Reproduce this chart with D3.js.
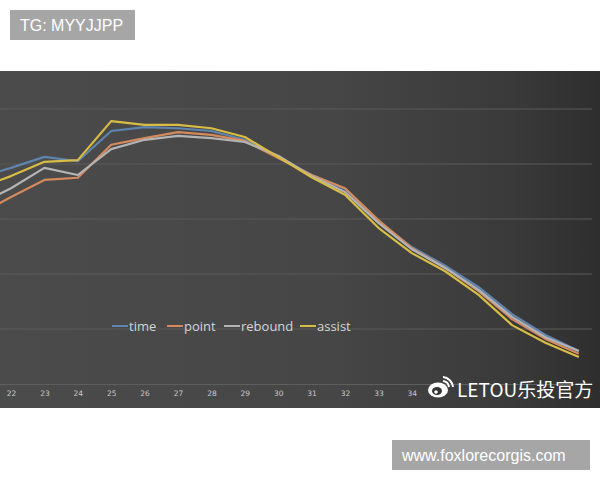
<!DOCTYPE html>
<html><head><meta charset="utf-8">
<script src="https://cdn.jsdelivr.net/npm/d3@7/dist/d3.min.js"></script>
<style>body{margin:0;background:#fff;}svg{display:block;}</style>
</head><body>
<svg id="c" width="600" height="480"></svg>
<script>
const ages = [21,22,23,24,25,26,27,28,29,30,31,32,33,34,35,36,37,38,39];
const tickLabels = ["22","23","24","25","26","27","28","29","30","31","32","33","34"];
const seriesNames = ["time","point","rebound","assist"];
const seriesColors = ["#5f84ad","#d48a5c","#b4b4b4","#d8bd45"];
const timeVals    = [3.75,3.93,4.13,4.05,4.60,4.67,4.65,4.60,4.44,4.13,3.80,3.55,2.95,2.49,2.15,1.76,1.27,0.89,0.60];
const pointVals   = [3.07,3.40,3.71,3.75,4.35,4.47,4.58,4.53,4.42,4.11,3.80,3.56,2.98,2.47,2.11,1.69,1.18,0.82,0.55];
const reboundVals = [3.25,3.56,3.93,3.80,4.27,4.44,4.51,4.47,4.40,4.15,3.78,3.49,2.93,2.45,2.11,1.71,1.22,0.85,0.60];
const assistVals  = [3.56,3.78,4.04,4.07,4.78,4.71,4.71,4.65,4.49,4.13,3.76,3.44,2.84,2.38,2.05,1.62,1.07,0.75,0.49];
const gridVals = [1,2,3,4,5];

const svg = d3.select("#c");
const defs = svg.append("defs");
const grad = defs.append("linearGradient").attr("id","bg").attr("x1","0").attr("x2","1").attr("y1","0").attr("y2","0");
grad.append("stop").attr("offset","0%").attr("stop-color","#4b4b4b");
grad.append("stop").attr("offset","55%").attr("stop-color","#464646");
grad.append("stop").attr("offset","85%").attr("stop-color","#3a3a3a");
grad.append("stop").attr("offset","100%").attr("stop-color","#2e2e2e");
defs.append("clipPath").attr("id","clip").append("rect").attr("x",0).attr("y",71).attr("width",600).attr("height",337);

svg.append("rect").attr("x",0).attr("y",71).attr("width",600).attr("height",337).attr("fill","url(#bg)");

const x = d3.scaleLinear().domain([22,39]).range([11,578.8]);
const y = d3.scaleLinear().domain([0,5]).range([384,109]);

// gridlines
svg.append("g").selectAll("line").data(gridVals).join("line")
  .attr("x1",0).attr("x2",592).attr("y1",d=>y(d)).attr("y2",d=>y(d))
  .attr("stroke","#5a5a5a").attr("stroke-width",1);

// axis
const axis = d3.axisBottom(x).tickValues(tickLabels.map(Number)).tickSize(0).tickPadding(7).tickFormat(d=>String(d));
const ag = svg.append("g").attr("transform",`translate(0,${y(0)})`).call(axis);
ag.select(".domain").attr("stroke","#5e5e5e").attr("d","M0,0.5H592");
ag.selectAll("text").attr("fill","#c8c8c8").attr("font-size","7.5px").attr("font-family","'DejaVu Sans', sans-serif");

// lines
const data = [timeVals,pointVals,reboundVals,assistVals];
const line = d3.line().x((d,i)=>x(ages[i])).y(d=>y(d));
const lg = svg.append("g").attr("clip-path","url(#clip)");
lg.selectAll("path").data(data).join("path")
  .attr("d",line).attr("fill","none")
  .attr("stroke",(d,i)=>seriesColors[i]).attr("stroke-width",2.2).attr("stroke-linejoin","round");

// legend
const legX = [112,167,224,300];
const leg = svg.append("g").selectAll("g").data(seriesNames).join("g")
  .attr("transform",(d,i)=>`translate(${legX[i]},326)`);
leg.append("line").attr("x1",0).attr("x2",16).attr("y1",0).attr("y2",0)
  .attr("stroke",(d,i)=>seriesColors[i]).attr("stroke-width",2);
leg.append("text").attr("x",17).attr("y",4.5).text(d=>d)
  .attr("fill","#d4d4d4").attr("font-size","13px").attr("font-family","'Open Sans', sans-serif");

// watermark
const wm = svg.append("g").attr("transform","translate(438,389)");
wm.append("ellipse").attr("cx",0).attr("cy",1).attr("rx",10).attr("ry",7.5).attr("fill","#fff");
wm.append("ellipse").attr("cx",-1).attr("cy",2).attr("rx",5).attr("ry",4).attr("fill","#333");
wm.append("circle").attr("cx",-2).attr("cy",3).attr("r",1.8).attr("fill","#fff");
wm.append("path").attr("d","M5,-8 A7,7 0 0 1 11,-2").attr("stroke","#fff").attr("stroke-width",2).attr("fill","none");
wm.append("path").attr("d","M5,-12 A11,11 0 0 1 15,-2").attr("stroke","#fff").attr("stroke-width",2).attr("fill","none");
svg.append("text").attr("x",457).attr("y",397).text("LETOU乐投官方")
  .attr("fill","#ffffff").attr("font-size","19px").attr("font-family","'Noto Sans CJK SC', sans-serif");

// top label
svg.append("rect").attr("x",10).attr("y",10).attr("width",125).attr("height",30).attr("fill","#a6a6a6");
svg.append("text").attr("x",20).attr("y",31).text("TG: MYYJJPP")
  .attr("fill","#fff").attr("font-size","16px").attr("font-family","'Liberation Sans', Arial, sans-serif");

// url label
svg.append("rect").attr("x",392).attr("y",440).attr("width",198).attr("height",30).attr("fill","#a6a6a6");
svg.append("text").attr("x",402).attr("y",461).text("www.foxlorecorgis.com")
  .attr("fill","#fff").attr("font-size","16px").attr("font-family","'Liberation Sans', Arial, sans-serif");
</script>
</body></html>
